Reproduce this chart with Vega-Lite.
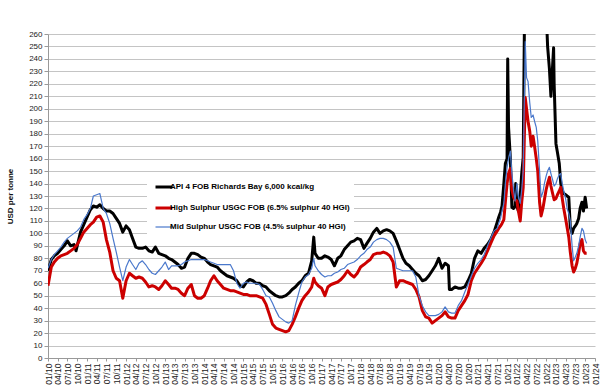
{
  "$schema": "https://vega.github.io/schema/vega-lite/v6.json",
  "width": 547,
  "height": 324,
  "autosize": {"type": "none"},
  "padding": {"left": 48, "top": 34, "right": 5, "bottom": 34},
  "background": "white",
  "config": {
    "font": "Liberation Sans",
    "view": {"stroke": null},
    "axis": {"labelFont": "Liberation Sans", "titleFont": "Liberation Sans", "labelColor": "#222222", "titleColor": "#111111"},
    "legend": {"labelFont": "Liberation Sans"}
  },
  "data": {
    "values": [
      {"d": "2010-01-01", "a": 70, "h": 58, "m": 72},
      {"d": "2010-02-01", "a": 79, "h": 73, "m": 79},
      {"d": "2010-03-01", "a": 82, "h": 77, "m": 83},
      {"d": "2010-04-01", "a": 84, "h": 80, "m": 86},
      {"d": "2010-05-01", "a": 87, "h": 82, "m": 89},
      {"d": "2010-06-01", "a": 90, "h": 83, "m": 93},
      {"d": "2010-07-01", "a": 94, "h": 84, "m": 96},
      {"d": "2010-08-01", "a": 90, "h": 86, "m": 98},
      {"d": "2010-09-01", "a": 91, "h": 88, "m": 100},
      {"d": "2010-09-20", "a": 86},
      {"d": "2010-10-01", "a": 90, "h": 91, "m": 102},
      {"d": "2010-11-01", "a": 101, "h": 96, "m": 105},
      {"d": "2010-12-01", "a": 107, "h": 101, "m": 111},
      {"d": "2011-01-01", "a": 113, "h": 104, "m": 115},
      {"d": "2011-02-01", "a": 119, "h": 107, "m": 120},
      {"d": "2011-03-01", "a": 122, "h": 109, "m": 130},
      {"d": "2011-04-01", "a": 121, "h": 113, "m": 131},
      {"d": "2011-05-01", "a": 123, "h": 114, "m": 132},
      {"d": "2011-06-01", "a": 120, "h": 109, "m": 120},
      {"d": "2011-07-01", "a": 118, "h": 95, "m": 116},
      {"d": "2011-08-01", "a": 118, "h": 85, "m": 108},
      {"d": "2011-09-01", "a": 116, "h": 70, "m": 96},
      {"d": "2011-10-01", "a": 112, "h": 64, "m": 85},
      {"d": "2011-11-01", "a": 108, "h": 62, "m": 73},
      {"d": "2011-12-01", "a": 101, "h": 48, "m": 62},
      {"d": "2012-01-01", "a": 106, "h": 62, "m": 73},
      {"d": "2012-02-01", "a": 103, "h": 68, "m": 79},
      {"d": "2012-03-01", "a": 96, "h": 66, "m": 75},
      {"d": "2012-04-01", "a": 89, "h": 64, "m": 71},
      {"d": "2012-05-01", "a": 88, "h": 65, "m": 76},
      {"d": "2012-06-01", "a": 88, "h": 64, "m": 78},
      {"d": "2012-07-01", "a": 89, "h": 61, "m": 75},
      {"d": "2012-08-01", "a": 86, "h": 57, "m": 71},
      {"d": "2012-09-01", "a": 85, "h": 58, "m": 68},
      {"d": "2012-10-01", "a": 89, "h": 57, "m": 67},
      {"d": "2012-11-01", "a": 84, "h": 55, "m": 70},
      {"d": "2012-12-01", "a": 83, "h": 58, "m": 73},
      {"d": "2013-01-01", "a": 82, "h": 62, "m": 77},
      {"d": "2013-02-01", "a": 80, "h": 59, "m": 71},
      {"d": "2013-03-01", "a": 79, "h": 56, "m": 74},
      {"d": "2013-04-01", "a": 77, "h": 56, "m": 74},
      {"d": "2013-05-01", "a": 75, "h": 55, "m": 74},
      {"d": "2013-06-01", "a": 72, "h": 52, "m": 75},
      {"d": "2013-07-01", "a": 73, "h": 50, "m": 77},
      {"d": "2013-08-01", "a": 80, "h": 56, "m": 78},
      {"d": "2013-09-01", "a": 84, "h": 59, "m": 79},
      {"d": "2013-10-01", "a": 84, "h": 50, "m": 79},
      {"d": "2013-11-01", "a": 83, "h": 48, "m": 79},
      {"d": "2013-12-01", "a": 81, "h": 48, "m": 79},
      {"d": "2014-01-01", "a": 80, "h": 50, "m": 79},
      {"d": "2014-02-01", "a": 77, "h": 56, "m": 78},
      {"d": "2014-03-01", "a": 75, "h": 62, "m": 77},
      {"d": "2014-04-01", "a": 74, "h": 66, "m": 76},
      {"d": "2014-05-01", "a": 73, "h": 62, "m": 75},
      {"d": "2014-06-01", "a": 70, "h": 59, "m": 75},
      {"d": "2014-07-01", "a": 68, "h": 56, "m": 75},
      {"d": "2014-08-01", "a": 66, "h": 55, "m": 75},
      {"d": "2014-09-01", "a": 65, "h": 54, "m": 75},
      {"d": "2014-10-01", "a": 64, "h": 54, "m": 70},
      {"d": "2014-11-01", "a": 62, "h": 53, "m": 60},
      {"d": "2014-12-01", "a": 58, "h": 52, "m": 56},
      {"d": "2015-01-01", "a": 57, "h": 51, "m": 60},
      {"d": "2015-02-01", "a": 61, "h": 51, "m": 61},
      {"d": "2015-03-01", "a": 63, "h": 50, "m": 60},
      {"d": "2015-04-01", "a": 62, "h": 50, "m": 60},
      {"d": "2015-05-01", "a": 60, "h": 50, "m": 60},
      {"d": "2015-06-01", "a": 60, "h": 49, "m": 59},
      {"d": "2015-07-01", "a": 58, "h": 48, "m": 55},
      {"d": "2015-08-01", "a": 57, "h": 43, "m": 50},
      {"d": "2015-09-01", "a": 54, "h": 35, "m": 49},
      {"d": "2015-10-01", "a": 52, "h": 27, "m": 44},
      {"d": "2015-11-01", "a": 50, "h": 24, "m": 38},
      {"d": "2015-12-01", "a": 49, "h": 23, "m": 33},
      {"d": "2016-01-01", "a": 49, "h": 22, "m": 31},
      {"d": "2016-02-01", "a": 50, "h": 21, "m": 29},
      {"d": "2016-03-01", "a": 52, "h": 22, "m": 28},
      {"d": "2016-04-01", "a": 55, "h": 27, "m": 30},
      {"d": "2016-05-01", "a": 57, "h": 33, "m": 42},
      {"d": "2016-06-01", "a": 60, "h": 40, "m": 52},
      {"d": "2016-07-01", "a": 62, "h": 46, "m": 61},
      {"d": "2016-08-01", "a": 66, "h": 50, "m": 65},
      {"d": "2016-09-01", "a": 68, "h": 53, "m": 67},
      {"d": "2016-10-01", "a": 78, "h": 57, "m": 72},
      {"d": "2016-10-20", "a": 97, "h": 64, "m": 80},
      {"d": "2016-11-01", "a": 84, "h": 61, "m": 74},
      {"d": "2016-12-01", "a": 80, "h": 58, "m": 70},
      {"d": "2017-01-01", "a": 80, "h": 56, "m": 67},
      {"d": "2017-02-01", "a": 82, "h": 50, "m": 65},
      {"d": "2017-03-01", "a": 81, "h": 57, "m": 66},
      {"d": "2017-04-01", "a": 79, "h": 59, "m": 66},
      {"d": "2017-05-01", "a": 74, "h": 60, "m": 68},
      {"d": "2017-06-01", "a": 80, "h": 61, "m": 69},
      {"d": "2017-07-01", "a": 82, "h": 63, "m": 71},
      {"d": "2017-08-01", "a": 87, "h": 66, "m": 72},
      {"d": "2017-09-01", "a": 90, "h": 70, "m": 75},
      {"d": "2017-10-01", "a": 93, "h": 67, "m": 76},
      {"d": "2017-11-01", "a": 94, "h": 65, "m": 77},
      {"d": "2017-12-01", "a": 96, "h": 68, "m": 79},
      {"d": "2018-01-01", "a": 95, "h": 73, "m": 82},
      {"d": "2018-02-01", "a": 88, "h": 75, "m": 84},
      {"d": "2018-03-01", "a": 92, "h": 77, "m": 87},
      {"d": "2018-04-01", "a": 96, "h": 79, "m": 89},
      {"d": "2018-05-01", "a": 101, "h": 83, "m": 93},
      {"d": "2018-06-01", "a": 104, "h": 84, "m": 95},
      {"d": "2018-07-01", "a": 100, "h": 84, "m": 96},
      {"d": "2018-08-01", "a": 102, "h": 85, "m": 96},
      {"d": "2018-09-01", "a": 103, "h": 84, "m": 95},
      {"d": "2018-10-01", "a": 102, "h": 82, "m": 93},
      {"d": "2018-11-01", "a": 100, "h": 77, "m": 89},
      {"d": "2018-12-01", "a": 94, "h": 57, "m": 72},
      {"d": "2019-01-01", "a": 87, "h": 62, "m": 71},
      {"d": "2019-02-01", "a": 80, "h": 62, "m": 70},
      {"d": "2019-03-01", "a": 76, "h": 61, "m": 70},
      {"d": "2019-04-01", "a": 74, "h": 60, "m": 70},
      {"d": "2019-05-01", "a": 71, "h": 59, "m": 70},
      {"d": "2019-06-01", "a": 68, "h": 55, "m": 65},
      {"d": "2019-07-01", "a": 66, "h": 49, "m": 50},
      {"d": "2019-08-01", "a": 62, "h": 38, "m": 42},
      {"d": "2019-09-01", "a": 63, "h": 33, "m": 37},
      {"d": "2019-10-01", "a": 66, "h": 32, "m": 34},
      {"d": "2019-11-01", "a": 70, "h": 28, "m": 34},
      {"d": "2019-12-01", "a": 74, "h": 30, "m": 34},
      {"d": "2020-01-01", "a": 80, "h": 32, "m": 35},
      {"d": "2020-02-01", "a": 72, "h": 34, "m": 37},
      {"d": "2020-03-01", "a": 76, "h": 37, "m": 41},
      {"d": "2020-04-01", "a": 74, "h": 33, "m": 37},
      {"d": "2020-04-10", "a": 55},
      {"d": "2020-05-01", "a": 55, "h": 32, "m": 36},
      {"d": "2020-06-01", "a": 57, "h": 32, "m": 36},
      {"d": "2020-07-01", "a": 56, "h": 38, "m": 42},
      {"d": "2020-08-01", "a": 56, "h": 42, "m": 46},
      {"d": "2020-09-01", "a": 57, "h": 46, "m": 53},
      {"d": "2020-10-01", "a": 62, "h": 51, "m": 59},
      {"d": "2020-11-01", "a": 68, "h": 62, "m": 66},
      {"d": "2020-12-01", "a": 80, "h": 68, "m": 72},
      {"d": "2021-01-01", "a": 86, "h": 72, "m": 76},
      {"d": "2021-02-01", "a": 84, "h": 76, "m": 79},
      {"d": "2021-03-01", "a": 88, "h": 80, "m": 83},
      {"d": "2021-04-01", "a": 91, "h": 86, "m": 90},
      {"d": "2021-05-01", "a": 95, "h": 92, "m": 96},
      {"d": "2021-06-01", "a": 101, "h": 98, "m": 102},
      {"d": "2021-07-01", "a": 109, "h": 102, "m": 104},
      {"d": "2021-07-15", "a": 113, "h": 104, "m": 108},
      {"d": "2021-08-01", "a": 117, "h": 106, "m": 112},
      {"d": "2021-08-15", "a": 122, "h": 108, "m": 118},
      {"d": "2021-09-01", "a": 140, "h": 111, "m": 124},
      {"d": "2021-09-15", "a": 156, "h": 125, "m": 140},
      {"d": "2021-10-01", "a": 160, "h": 140, "m": 153},
      {"d": "2021-10-07", "a": 240},
      {"d": "2021-10-15", "a": 185, "h": 148, "m": 160},
      {"d": "2021-11-01", "a": 160, "h": 152, "m": 166},
      {"d": "2021-11-15", "a": 121, "h": 135, "m": 148},
      {"d": "2021-12-01", "a": 120, "h": 129, "m": 135},
      {"d": "2021-12-15", "a": 122, "h": 127, "m": 126},
      {"d": "2021-12-21", "a": 140},
      {"d": "2022-01-01", "a": 122, "h": 126, "m": 140},
      {"d": "2022-01-15", "a": 118, "h": 118, "m": 130},
      {"d": "2022-02-01", "a": 130, "h": 110, "m": 124},
      {"d": "2022-02-15", "a": 148, "h": 125, "m": 135},
      {"d": "2022-03-01", "a": 161, "h": 137, "m": 150},
      {"d": "2022-03-20", "a": 340, "h": 209, "m": 254},
      {"d": "2022-04-01", "a": 300, "h": 200, "m": 225},
      {"d": "2022-04-15", "a": 310, "h": 190, "m": 222},
      {"d": "2022-05-01", "a": 330, "h": 182, "m": 205},
      {"d": "2022-05-15", "a": 350, "h": 170, "m": 193},
      {"d": "2022-06-01", "a": 340, "h": 178, "m": 195},
      {"d": "2022-06-15", "a": 360, "h": 170, "m": 190},
      {"d": "2022-07-01", "a": 380, "h": 160, "m": 185},
      {"d": "2022-07-15", "a": 360, "h": 150, "m": 174},
      {"d": "2022-08-01", "a": 340, "h": 125, "m": 150},
      {"d": "2022-08-15", "a": 330, "h": 114, "m": 129},
      {"d": "2022-09-01", "a": 320, "h": 120, "m": 133},
      {"d": "2022-09-15", "a": 300, "h": 127, "m": 140},
      {"d": "2022-10-01", "a": 280, "h": 135, "m": 146},
      {"d": "2022-10-15", "a": 250, "h": 140, "m": 150},
      {"d": "2022-11-01", "a": 232, "h": 145, "m": 153},
      {"d": "2022-11-15", "a": 210, "h": 138, "m": 148},
      {"d": "2022-12-01", "a": 235, "h": 132, "m": 143},
      {"d": "2022-12-10", "a": 249},
      {"d": "2022-12-15", "a": 220, "h": 127, "m": 138},
      {"d": "2023-01-01", "a": 172, "h": 128, "m": 140},
      {"d": "2023-01-15", "a": 165, "h": 131, "m": 144},
      {"d": "2023-02-01", "a": 156, "h": 134, "m": 147},
      {"d": "2023-02-15", "a": 140, "h": 137, "m": 148},
      {"d": "2023-03-01", "a": 134, "h": 128, "m": 140},
      {"d": "2023-03-15", "a": 132, "h": 120, "m": 134},
      {"d": "2023-04-01", "a": 131, "h": 112, "m": 128},
      {"d": "2023-04-15", "a": 130, "h": 105, "m": 120},
      {"d": "2023-05-01", "a": 129, "h": 97, "m": 116},
      {"d": "2023-05-15", "a": 105, "h": 85, "m": 110},
      {"d": "2023-06-01", "a": 100, "h": 74, "m": 90},
      {"d": "2023-06-15", "a": 104, "h": 69, "m": 78},
      {"d": "2023-07-01", "a": 106, "h": 72, "m": 81},
      {"d": "2023-07-15", "a": 108, "h": 76, "m": 84},
      {"d": "2023-08-01", "a": 112, "h": 84, "m": 90},
      {"d": "2023-08-15", "a": 120, "h": 92, "m": 97},
      {"d": "2023-09-01", "a": 125, "h": 95, "m": 104},
      {"d": "2023-09-15", "a": 118, "h": 86, "m": 102},
      {"d": "2023-10-01", "a": 129, "h": 84, "m": 95},
      {"d": "2023-10-15", "a": 120, "h": 84, "m": 92}
    ]
  },
  "transform": [
    {"fold": ["a", "h", "m"], "as": ["s", "v"]},
    {"filter": "isValid(datum.v)"}
  ],
  "mark": {"type": "line", "clip": true, "strokeJoin": "round"},
  "encoding": {
    "x": {
      "field": "d",
      "type": "temporal",
      "scale": {"domain": ["2010-01-01", "2024-01-01"]},
      "axis": {
        "title": null,
        "format": "%m/%y",
        "tickCount": {"interval": "month", "step": 3},
        "labelAngle": -90,
        "labelAlign": "right",
        "labelBaseline": "middle",
        "labelFontSize": 8.5,
        "labelPadding": 2,
        "labelOverlap": false,
        "labelFlush": false,
        "grid": false,
        "domainColor": "#999999",
        "tickColor": "#999999",
        "tickSize": 3
      }
    },
    "y": {
      "field": "v",
      "type": "quantitative",
      "scale": {"domain": [0, 260], "nice": false},
      "axis": {
        "title": "USD per tonne",
        "titleFontSize": 8,
        "titleFontWeight": "bold",
        "titlePadding": 14,
        "values": [0, 10, 20, 30, 40, 50, 60, 70, 80, 90, 100, 110, 120, 130, 140, 150, 160, 170, 180, 190, 200, 210, 220, 230, 240, 250, 260],
        "labelFontSize": 8,
        "labelPadding": 2,
        "labelOverlap": false,
        "gridColor": "#c4c4c4",
        "domainColor": "#999999",
        "tickColor": "#999999",
        "tickSize": 4
      }
    },
    "strokeWidth": {
      "condition": {"test": "datum.s == 'm'", "value": 1.2},
      "value": 3
    },
    "color": {
      "field": "s",
      "type": "nominal",
      "scale": {"domain": ["a", "h", "m"], "range": ["#000000", "#cc0000", "#4a78cc"]},
      "legend": {
        "title": null,
        "orient": "none",
        "legendX": 99,
        "legendY": 145,
        "fillColor": "white",
        "padding": 4,
        "symbolOffset": 9,
        "labelOffset": 2,
        "rowPadding": 9,
        "symbolType": "stroke",
        "symbolSize": 289,
        "symbolStrokeWidth": 3,
        "labelFontSize": 8,
        "labelFontWeight": "bold",
        "labelColor": "#000000",
        "labelLimit": 400,
        "labelExpr": "datum.value == 'a' ? 'API 4 FOB Richards Bay 6,000 kcal/kg' : datum.value == 'h' ? 'High Sulphur USGC FOB (6.5% sulphur 40 HGI)' : 'Mid Sulphur USGC FOB (4.5% sulphur 40 HGI)'",
        "encode": {
          "symbols": {
            "update": {
              "strokeWidth": {"signal": "datum.value == 'm' ? 1.2 : 3"}
            }
          }
        }
      }
    }
  }
}
